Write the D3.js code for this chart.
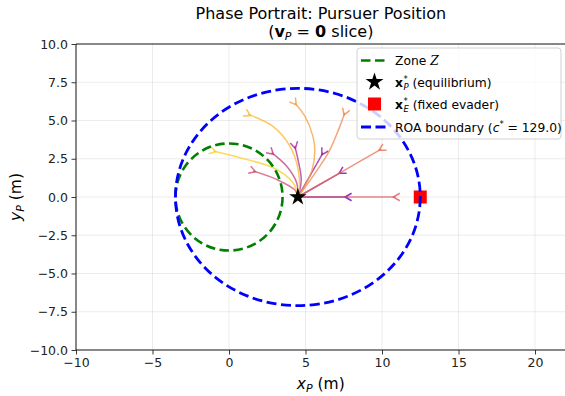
<!DOCTYPE html>
<html>
<head>
<meta charset="utf-8">
<script src="https://cdn.jsdelivr.net/npm/d3@7"></script>
<style>
  html, body { margin: 0; padding: 0; background: #fff; }
  svg { display: block; font-family: "DejaVu Sans", sans-serif; }
  svg text { white-space: pre; }
</style>
</head>
<body>
<svg id="chart" width="565" height="396"></svg>
<script>
// ---- data ----
const xDomain = [-10, 22];
const yDomain = [-10, 10];
const xTicks = [-10, -5, 0, 5, 10, 15, 20];
const yTicks = [-10, -7.5, -5, -2.5, 0, 2.5, 5, 7.5, 10];

const equilibrium = [4.5, 0];
const evader = [12.5, 0];
const zoneCenter = [0, 0];
const zoneRadius = 3.5;
const roaCenter = [4.5, 0];
const roaSemiAxes = [8.0, 7.1];
const roaLevel = "129.0";

// pursuer trajectories (waypoints, first point = initial position)
const trajInner = [
  [[7.75, 0], [6.1, 0], [4.5, 0]],
  [[7.34, 1.63], [5.9, 0.8], [4.5, 0]],
  [[6.15, 2.9], [5.3, 1.4], [4.5, 0]],
  [[4.3, 3.33], [4.53, 2.35], [4.72, 1.2], [4.62, 0.4], [4.5, 0]],
  [[2.78, 2.9], [3.76, 2.02], [4.42, 0.93], [4.5, 0]],
  [[1.58, 1.7], [3.11, 1.15], [4.31, 0.45], [4.5, 0]]
];
const trajOuter = [
  [[10.9, 0], [7.7, 0], [4.5, 0]],
  [[9.95, 3.13], [7.2, 1.55], [4.5, 0]],
  [[7.57, 5.5], [7.2, 4.5], [6.55, 3.0], [5.55, 1.45], [4.5, 0]],
  [[4.3, 6.15], [4.96, 5.28], [5.48, 3.98], [5.61, 3.0], [5.41, 1.7], [4.83, 0.52], [4.5, 0]],
  [[1.26, 5.4], [2.89, 4.6], [3.98, 3.33], [4.52, 1.81], [4.6, 0.5], [4.5, 0]],
  [[-1.02, 3.0], [0.72, 2.56], [2.89, 1.91], [4.19, 0.93], [4.5, 0]]
];
const trajectories = trajInner.concat(trajOuter);

// ---- layout ----
const svg = d3.select("#chart");
const plotLeft = 76, plotTop = 44, plotBottom = 350;
const unit = (plotBottom - plotTop) / (yDomain[1] - yDomain[0]);
const x = d3.scaleLinear().domain(xDomain).range([plotLeft, plotLeft + unit * (xDomain[1] - xDomain[0])]);
const y = d3.scaleLinear().domain(yDomain).range([plotBottom, plotTop]);
const plotRight = x(xDomain[1]);

svg.append("defs").append("clipPath").attr("id", "plotclip")
  .append("rect").attr("x", plotLeft).attr("y", plotTop).attr("width", plotRight - plotLeft).attr("height", plotBottom - plotTop);

// grid
const grid = svg.append("g");
xTicks.forEach(t => grid.append("line").attr("x1", x(t)).attr("x2", x(t)).attr("y1", plotTop).attr("y2", plotBottom)
  .attr("stroke", "#b0b0b0").attr("stroke-opacity", 0.3).attr("stroke-width", 0.8));
yTicks.forEach(t => grid.append("line").attr("x1", plotLeft).attr("x2", plotRight).attr("y1", y(t)).attr("y2", y(t))
  .attr("stroke", "#b0b0b0").attr("stroke-opacity", 0.3).attr("stroke-width", 0.8));

const plot = svg.append("g").attr("clip-path", "url(#plotclip)");

// trajectories
const line = d3.line().x(d => x(d[0])).y(d => y(d[1])).curve(d3.curveCatmullRom.alpha(0.5));
const n = trajectories.length;
trajectories.forEach((pts, i) => {
  const col = d3.interpolatePlasma(0.2 + 0.7 * i / (n - 1));
  plot.append("path").attr("d", line(pts)).attr("fill", "none")
    .attr("stroke", col).attr("stroke-width", 1.5).attr("stroke-opacity", 0.75);
  // direction chevron at the initial position
  const p0 = [x(pts[0][0]), y(pts[0][1])], p1 = [x(pts[1][0]), y(pts[1][1])];
  const len = Math.hypot(p1[0] - p0[0], p1[1] - p0[1]);
  const ux = (p1[0] - p0[0]) / len, uy = (p1[1] - p0[1]) / len;
  const tip = [p0[0] + ux * 2.5, p0[1] + uy * 2.5];
  const a = 30 * Math.PI / 180, L = 7.5;
  const arm = s => [tip[0] - L * (ux * Math.cos(a) - s * uy * Math.sin(a)),
                    tip[1] - L * (uy * Math.cos(a) + s * ux * Math.sin(a))];
  const A = arm(1), B = arm(-1);
  plot.append("path").attr("d", `M${A[0]},${A[1]}L${tip[0]},${tip[1]}L${B[0]},${B[1]}`)
    .attr("fill", "none").attr("stroke", col).attr("stroke-width", 1.5).attr("stroke-opacity", 0.8)
    .attr("stroke-linejoin", "miter");
});

// zone
plot.append("ellipse").attr("cx", x(zoneCenter[0])).attr("cy", y(zoneCenter[1]))
  .attr("rx", x(zoneCenter[0] + zoneRadius) - x(zoneCenter[0]))
  .attr("ry", y(zoneCenter[1]) - y(zoneCenter[1] + zoneRadius))
  .attr("fill", "none").attr("stroke", "#008000").attr("stroke-width", 2.6).attr("stroke-dasharray", "9.5,4.5");

// equilibrium and evader
const starPath = d3.symbol().type(d3.symbolStar).size(95);
plot.append("path").attr("d", starPath()).attr("transform", `translate(${x(equilibrium[0])},${y(equilibrium[1])})`)
  .attr("fill", "#000");
const sq = 13;
plot.append("rect").attr("x", x(evader[0]) - sq / 2).attr("y", y(evader[1]) - sq / 2)
  .attr("width", sq).attr("height", sq).attr("fill", "#ff0000");

// ROA boundary
plot.append("ellipse").attr("cx", x(roaCenter[0])).attr("cy", y(roaCenter[1]))
  .attr("rx", x(roaCenter[0] + roaSemiAxes[0]) - x(roaCenter[0]))
  .attr("ry", y(roaCenter[1]) - y(roaCenter[1] + roaSemiAxes[1]))
  .attr("fill", "none").attr("stroke", "#0000ff").attr("stroke-width", 2.8).attr("stroke-dasharray", "10,4.5");

// spines
const sp = svg.append("g").attr("stroke", "#000").attr("stroke-width", 0.9);
sp.append("line").attr("x1", plotLeft).attr("x2", plotLeft).attr("y1", plotTop).attr("y2", plotBottom);
sp.append("line").attr("x1", plotLeft).attr("x2", plotRight).attr("y1", plotBottom).attr("y2", plotBottom);
sp.append("line").attr("x1", plotLeft).attr("x2", plotRight).attr("y1", plotTop).attr("y2", plotTop);
sp.append("line").attr("x1", plotRight).attr("x2", plotRight).attr("y1", plotTop).attr("y2", plotBottom);

// axes
const fx = d3.format("d"), fy = d3.format(".1f");
const xAxis = d3.axisBottom(x).tickValues(xTicks).tickFormat(fx).tickSize(4.5).tickPadding(3.5);
const yAxis = d3.axisLeft(y).tickValues(yTicks).tickFormat(fy).tickSize(4.5).tickPadding(3.5);
const gx = svg.append("g").attr("transform", `translate(0,${plotBottom})`).call(xAxis);
const gy = svg.append("g").attr("transform", `translate(${plotLeft},0)`).call(yAxis);
[gx, gy].forEach(g => {
  g.select(".domain").remove();
  g.selectAll("text").attr("font-family", "DejaVu Sans").attr("font-size", 12.5).attr("fill", "#222");
  g.selectAll("line").attr("stroke", "#222").attr("stroke-width", 0.9);
});

// axis labels
const xl = svg.append("text").attr("x", (plotLeft + plotRight) / 2).attr("y", 389)
  .attr("text-anchor", "middle").attr("font-size", 15.5).attr("fill", "#000");
xl.append("tspan").attr("font-style", "italic").text("x");
xl.append("tspan").attr("font-style", "italic").attr("font-size", 11).attr("dy", 3).text("P");
xl.append("tspan").attr("dy", -3).text(" (m)");

const yl = svg.append("text").attr("transform", `translate(21,${(plotTop + plotBottom) / 2}) rotate(-90)`)
  .attr("text-anchor", "middle").attr("font-size", 15.5).attr("fill", "#000");
yl.append("tspan").attr("font-style", "italic").text("y");
yl.append("tspan").attr("font-style", "italic").attr("font-size", 11).attr("dy", 3).text("P");
yl.append("tspan").attr("dy", -3).text(" (m)");

// title
const cx = (plotLeft + plotRight) / 2;
svg.append("text").attr("x", cx).attr("y", 19).attr("text-anchor", "middle").attr("font-size", 16)
  .attr("fill", "#000").text("Phase Portrait: Pursuer Position");
const t2 = svg.append("text").attr("x", cx).attr("y", 37).attr("text-anchor", "middle").attr("font-size", 16).attr("fill", "#000");
t2.append("tspan").text("(");
t2.append("tspan").attr("font-weight", "bold").text("v");
t2.append("tspan").attr("font-style", "italic").attr("font-size", 11).attr("dy", 3).text("P");
t2.append("tspan").attr("dy", -3).text(" = ");
t2.append("tspan").attr("font-weight", "bold").text("0");
t2.append("tspan").text(" slice)");

// legend
const lg = svg.append("g");
const lx = 357, ly = 48, lw = 204, lh = 91;
lg.append("rect").attr("x", lx).attr("y", ly).attr("width", lw).attr("height", lh).attr("rx", 3)
  .attr("fill", "#fff").attr("fill-opacity", 0.8).attr("stroke", "#cccccc").attr("stroke-width", 0.9);
const rows = [60.5, 82, 104, 127];
const hx0 = 361, hx1 = 388, tx = 395, fs = 12.3;
lg.append("line").attr("x1", hx0).attr("x2", hx1).attr("y1", rows[0]).attr("y2", rows[0])
  .attr("stroke", "#008000").attr("stroke-width", 2.6).attr("stroke-dasharray", "9.5,4.5");
lg.append("path").attr("d", d3.symbol().type(d3.symbolStar).size(100)())
  .attr("transform", `translate(${(hx0 + hx1) / 2},${rows[1]})`).attr("fill", "#000");
lg.append("rect").attr("x", (hx0 + hx1) / 2 - 6.5).attr("y", rows[2] - 6.5).attr("width", 13).attr("height", 13).attr("fill", "#ff0000");
lg.append("line").attr("x1", hx0).attr("x2", hx1).attr("y1", rows[3]).attr("y2", rows[3])
  .attr("stroke", "#0000ff").attr("stroke-width", 2.8).attr("stroke-dasharray", "10,4.5");

const z = lg.append("text").attr("x", tx).attr("y", rows[0] + 4.5).attr("font-size", fs).attr("fill", "#000");
z.append("tspan").text("Zone ");
z.append("tspan").attr("font-family", "DejaVu Serif").attr("font-style", "italic").text("Z");

// bold x with stacked * superscript and italic subscript, in one text element
function starredLabel(yb, sub, rest) {
  const t = lg.append("text").attr("x", tx).attr("y", yb).attr("font-size", fs).attr("fill", "#000");
  t.append("tspan").attr("font-weight", "bold").text("x");
  t.append("tspan").attr("font-size", 8.5).attr("dx", 0.5).attr("dy", -5).text("*");
  t.append("tspan").attr("font-size", 8.5).attr("font-style", "italic").attr("dx", -4.3).attr("dy", 8).text(sub);
  t.append("tspan").attr("dx", 0).attr("dy", -3).text(" " + rest);
}
starredLabel(rows[1] + 4.5, "P", "(equilibrium)");
starredLabel(rows[2] + 4.5, "E", "(fixed evader)");

const r = lg.append("text").attr("x", tx).attr("y", rows[3] + 4.5).attr("font-size", fs).attr("fill", "#000");
r.append("tspan").text("ROA boundary (");
r.append("tspan").attr("font-style", "italic").text("c");
r.append("tspan").attr("font-size", 8.5).attr("dy", -5).text("*");
r.append("tspan").attr("dy", 5).text(" = " + roaLevel + ")");
</script>
</body>
</html>
